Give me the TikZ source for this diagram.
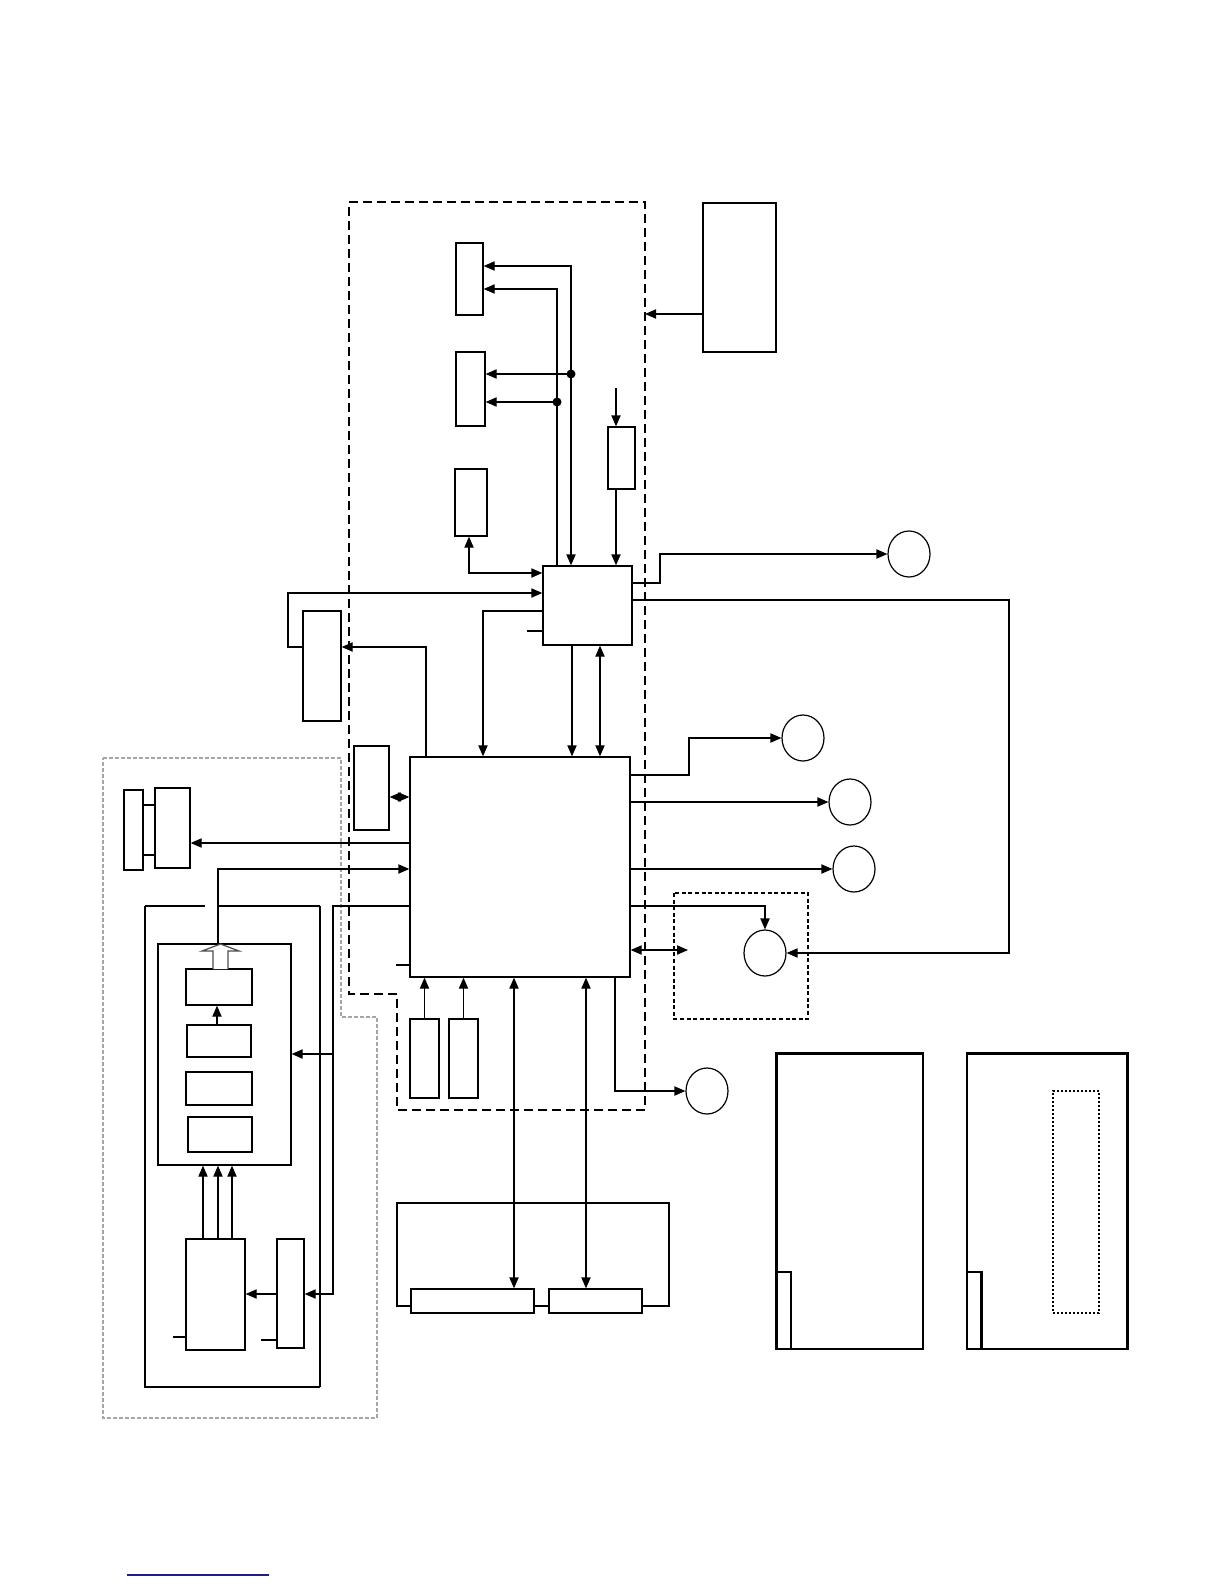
\documentclass[tikz,border=0pt]{standalone}
\usetikzlibrary{arrows.meta,fit,shapes.geometric}
\definecolor{navyline}{RGB}{25,30,140}
\begin{document}
\begin{tikzpicture}[x=0.5pt,y=-0.5pt,
  ln/.style={line width=0.65pt},
  blk/.style={draw, line width=0.65pt, inner sep=0pt, rectangle},
  arr/.style={ln, -{Triangle[length=5.5pt,width=4.6pt]}},
  darr/.style={ln, {Triangle[length=5.5pt,width=4.6pt]}-{Triangle[length=5.5pt,width=4.6pt]}},
  circ/.style={draw, ellipse, line width=0.6pt, minimum width=21pt, minimum height=23pt, inner sep=0pt},
  thickdash/.style={line width=1.25pt, dash pattern=on 4.5pt off 2.5pt},
  graydash/.style={gray!70, line width=0.6pt, dash pattern=on 2pt off 1pt},
  thindash/.style={line width=0.55pt, dash pattern=on 2pt off 1.3pt},
  dotdash/.style={line width=0.6pt, dash pattern=on 1pt off 1pt},
  jdot/.style={circle, fill, inner sep=0pt, minimum size=4.5pt}]
\useasboundingbox (0,0) rectangle (1224,1584);

% boundaries
\draw[thickdash] (349,202) -- (645,202) -- (645,1110) -- (397,1110) -- (397,994) -- (349,994) -- cycle;
\draw[graydash] (103,758) -- (341,758) -- (341,1017) -- (377,1017) -- (377,1418) -- (103,1418) -- cycle;
\draw[thindash] (674,893) rectangle (808,1019);

% upper blocks
\node[blk, fit={(703,203) (776,352)}] (TR) {};
\node[blk, fit={(456,243) (483,315)}] (B1) {};
\node[blk, fit={(456,352) (485,426)}] (B2) {};
\node[blk, fit={(455,469) (487,536)}] (B3) {};
\node[blk, fit={(608,427) (635,489)}] (B5) {};
\node[blk, fit={(543,566) (632,645)}] (B4) {};
\node[blk, fit={(303,611) (341,721)}] (M1) {};
\node[blk, fit={(354,746) (389,830)}] (M2) {};
\node[blk, fit={(410,757) (630,977)}] (MAIN) {};
\node[blk, fit={(410,1019) (439,1098)}] (S1) {};
\node[blk, fit={(449,1019) (478,1098)}] (S2) {};

% circles
\node[circ] (C1) at (909,554) {};
\node[circ] (C2) at (803,738) {};
\node[circ] (C3) at (850,802) {};
\node[circ] (C4) at (854,869) {};
\node[circ] (C5) at (765,953) {};
\node[circ] (C6) at (707,1091) {};

% free ends
\coordinate (dbR) at (645,314);
\coordinate (b5in) at (616,388);
\coordinate (stubB4) at (527,631);
\coordinate (sdIn) at (688,950);
\coordinate (stubMain) at (396,965);
\coordinate (j1) at (571,374);
\coordinate (j2) at (557,402);

% connectors upper
\draw[arr] (TR.west |- dbR) -- (dbR);
\draw[darr] (B1.east |- 0,266) -- (571,266) -- (B4.north -| 571,0);
\draw[arr] (B4.north -| 557,0) -- (557,289) -- (B1.east |- 0,289);
\draw[arr] (j1) -- (B2.east |- j1);
\draw[arr] (j2) -- (B2.east |- j2);
\node[jdot] at (j1) {};
\node[jdot] at (j2) {};
\draw[darr] (B3.south -| 469,0) -- (469,573) -- (B4.west |- 0,573);
\draw[arr] (b5in) -- (B5.north -| b5in);
\draw[arr] (B5.south -| 616,0) -- (B4.north -| 616,0);
\draw[arr] (B4.east |- 0,583) -- (660,583) -- (660,554) -- (C1.west);
\draw[arr] (B4.east |- 0,600) -- (1009,600) -- (1009,953) -- (C5.east);
\draw[arr] (M1.west |- 0,647) -- (288,647) -- (288,593) -- (B4.west |- 0,593);
\draw[arr] (MAIN.north -| 426,0) -- (426,647) -- (M1.east |- 0,647);
\draw[arr] (B4.west |- 0,611) -- (483,611) -- (MAIN.north -| 483,0);
\draw[ln] (stubB4) -- (B4.west |- stubB4);
\draw[arr] (B4.south -| 572,0) -- (MAIN.north -| 572,0);
\draw[darr] (B4.south -| 600,0) -- (MAIN.north -| 600,0);
\draw[darr] (M2.east |- 0,797) -- (MAIN.west |- 0,797);

% main right
\draw[arr] (MAIN.east |- 0,775) -- (689,775) -- (689,738) -- (C2.west);
\draw[arr] (MAIN.east |- 0,802) -- (C3.west);
\draw[arr] (MAIN.east |- 0,869) -- (C4.west);
\draw[arr] (MAIN.east |- 0,906) -- (765,906) -- (C5.north);
\draw[darr] (MAIN.east |- sdIn) -- (sdIn);

% main bottom
\draw[arr] (S1.north) -- (S1.north |- MAIN.south);
\draw[arr] (S2.north) -- (S2.north |- MAIN.south);
\draw[arr] (MAIN.south -| 615,0) -- (615,1091) -- (C6.west);
\draw[ln] (stubMain) -- (MAIN.west |- stubMain);

% bottom bus
\node[blk, fit={(411,1289) (534,1313)}] (BUS1) {};
\node[blk, fit={(549,1289) (642,1313)}] (BUS2) {};
\draw[ln] (BUS1.west |- 0,1306) -- (397,1306) -- (397,1203) -- (669,1203) -- (669,1306) -- (BUS2.east |- 0,1306);
\draw[ln] (BUS1.east |- 0,1306) -- (BUS2.west |- 0,1306);
\draw[darr] (MAIN.south -| 514,0) -- (BUS1.north -| 514,0);
\draw[darr] (MAIN.south -| 586,0) -- (BUS2.north -| 586,0);

% lower-left group
\node[blk, fit={(124,790) (143,870)}] (L1) {};
\node[blk, fit={(155,788) (190,868)}] (L2) {};
\draw[ln] (L1.east |- 0,805) -- (L2.west |- 0,805);
\draw[ln] (L1.east |- 0,855) -- (L2.west |- 0,855);
\draw[arr] (MAIN.west |- 0,843) -- (L2.east |- 0,843);

\draw[line width=1pt] (205,906) -- (145,906);
\draw[ln] (145,906) -- (145,1387) -- (320,1387);
\draw[line width=1.3pt] (320,1387) -- (320,906);
\draw[line width=1pt] (320,906) -- (218,906);

\node[blk, fit={(158,944) (291,1165)}] (IB) {};
\node[blk, fit={(186,969) (252,1005)}] (L3) {};
\node[blk, fit={(187,1025) (251,1057)}] (L4) {};
\node[blk, fit={(186,1072) (252,1105)}] (L5) {};
\node[blk, fit={(188,1117) (252,1152)}] (L6) {};
\node[blk, fit={(186,1239) (245,1350)}] (L7) {};
\node[blk, fit={(277,1239) (304,1348)}] (L8) {};

% hollow arrow
\draw[gray!60!black, line width=0.6pt, fill=white] (213,969) -- (213,951) -- (202,951) -- (220.5,944) -- (239,951) -- (228,951) -- (228,969);
\coordinate (hTip) at (218,944);
\draw[arr] (hTip) -- (218,869) -- (MAIN.west |- 0,869);

\draw[arr] (L4.north -| 217,0) -- (L3.south -| 217,0);
\draw[arr] (L7.north -| 203,0) -- (IB.south -| 203,0);
\draw[arr] (L7.north -| 218,0) -- (IB.south -| 218,0);
\draw[arr] (L7.north -| 232,0) -- (IB.south -| 232,0);

\draw[arr] (MAIN.west |- 0,906) -- (333,906) -- (333,1294) -- (L8.east |- 0,1294);
\draw[arr] (333,1054) -- (IB.east |- 0,1054);
\draw[arr] (L8.west |- 0,1294) -- (L7.east |- 0,1294);
\coordinate (s7) at (173,1337);
\coordinate (s8) at (261,1340);
\draw[ln] (s7) -- (L7.west |- s7);
\draw[ln] (s8) -- (L8.west |- s8);

% right bottom panels
\node[blk, fit={(777,1054) (923,1349)}] (R1) {};
\node[blk, fit={(777,1272) (791,1349)}] (R1i) {};
\draw[line width=1.2pt] (R1.south west) -- (R1.north west) -- (R1.north east);
\node[blk, fit={(967,1054) (1127,1349)}] (R2) {};
\node[blk, fit={(967,1272) (981,1349)}] (R2i) {};
\draw[line width=1.2pt] (R2.north west) -- (R2.north east) -- (R2.south east);
\draw[line width=1.2pt] (R2i.north east) -- (R2i.south east);
\node[draw, dotdash, inner sep=0pt, fit={(1053,1091) (1099,1313)}] (R2d) {};

% blue rule
\draw[navyline, line width=1.2pt] (127,1575) -- (269,1575);
\end{tikzpicture}
\end{document}
